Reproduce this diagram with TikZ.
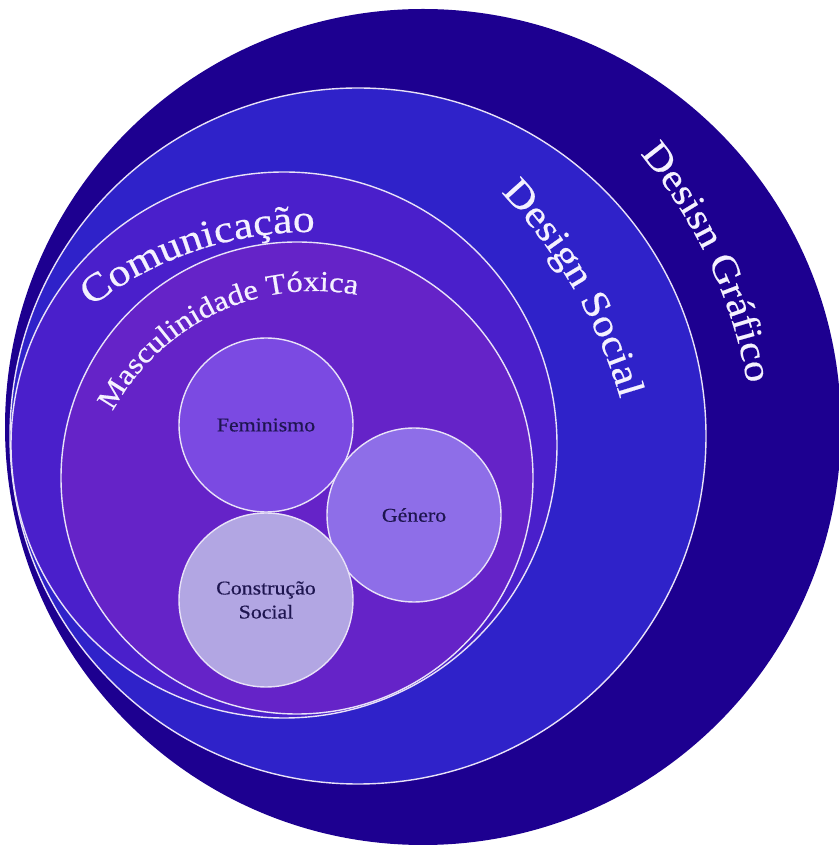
\documentclass[tikz,border=0pt]{standalone}
\usepackage{fontspec}
\setmainfont{Liberation Serif}[FakeStretch=1.12, FakeBold=0.5]
\usetikzlibrary{decorations.text}
\definecolor{cOuter}{HTML}{1D0090}
\definecolor{cDS}{HTML}{2F22C9}
\definecolor{cCom}{HTML}{4A1FCB}
\definecolor{cMasc}{HTML}{6523C8}
\definecolor{cFem}{HTML}{7B4AE2}
\definecolor{cGen}{HTML}{8E6EE8}
\definecolor{cCon}{HTML}{B2A6E3}
\definecolor{cLine}{HTML}{E8E2F8}
\definecolor{cRingText}{HTML}{F4F1FF}
\definecolor{cInText}{HTML}{1E1550}
\newcommand\comfont{\fontsize{39}{39}\selectfont}
\newcommand\mascfont{\fontsize{29}{29}\selectfont}
\newcommand\dsfont{\fontsize{38.5}{38.5}\selectfont}
\newcommand\dgfont{\fontsize{38}{38}\selectfont}
\begin{document}
\begin{tikzpicture}[x=1pt,y=1pt,
  ringcircle/.style={circle, inner sep=0pt, draw=cLine, line width=1.4pt},
  topic/.style={circle, inner sep=0pt, draw=cLine, line width=1.4pt,
    minimum size=174pt, text=cInText, align=center,
    font=\fontsize{19.5}{24}\selectfont},
  ringlabel/.style={decorate, decoration={text along path, text align=center,
    text color=cRingText, text={#1}}}]
\useasboundingbox (0,0) rectangle (838,846);
% outer rings
\node[circle, inner sep=0pt, fill=cOuter, minimum size=836pt] (grafico) at (423,419) {};
\node[ringcircle, fill=cDS, minimum size=696pt] (social) at (358,410) {};
\node[ringcircle, fill=cCom, minimum size=546pt] (comunicacao) at (284,401) {};
\node[ringcircle, fill=cMasc, minimum size=472pt] (masculinidade) at (297,368) {};
% ring labels
\path[ringlabel={|\dgfont|Desisn Gráfico}] (260,375) ++(50:495pt) arc[start angle=50, end angle=0, radius=495pt];
\path[ringlabel={|\dsfont|Design Social}] (141,308) ++(52:499pt) arc[start angle=52, end angle=8, radius=499pt];
\path[ringlabel={|\comfont|Comunicação}] (311,254) ++(150:360pt) arc[start angle=150, end angle=67, radius=360pt];
\path[ringlabel={|\mascfont|Masculinidade Tóxica}] (315,325) ++(180:230pt) arc[start angle=180, end angle=51, radius=230pt];
% inner topics
\node[topic, fill=cFem] (feminismo) at (266,421) {Feminismo};
\node[topic, fill=cGen] (genero) at (414,331) {Género};
\node[topic, fill=cCon] (construcao) at (266,246) {Construção\\Social};
\end{tikzpicture}
\end{document}
